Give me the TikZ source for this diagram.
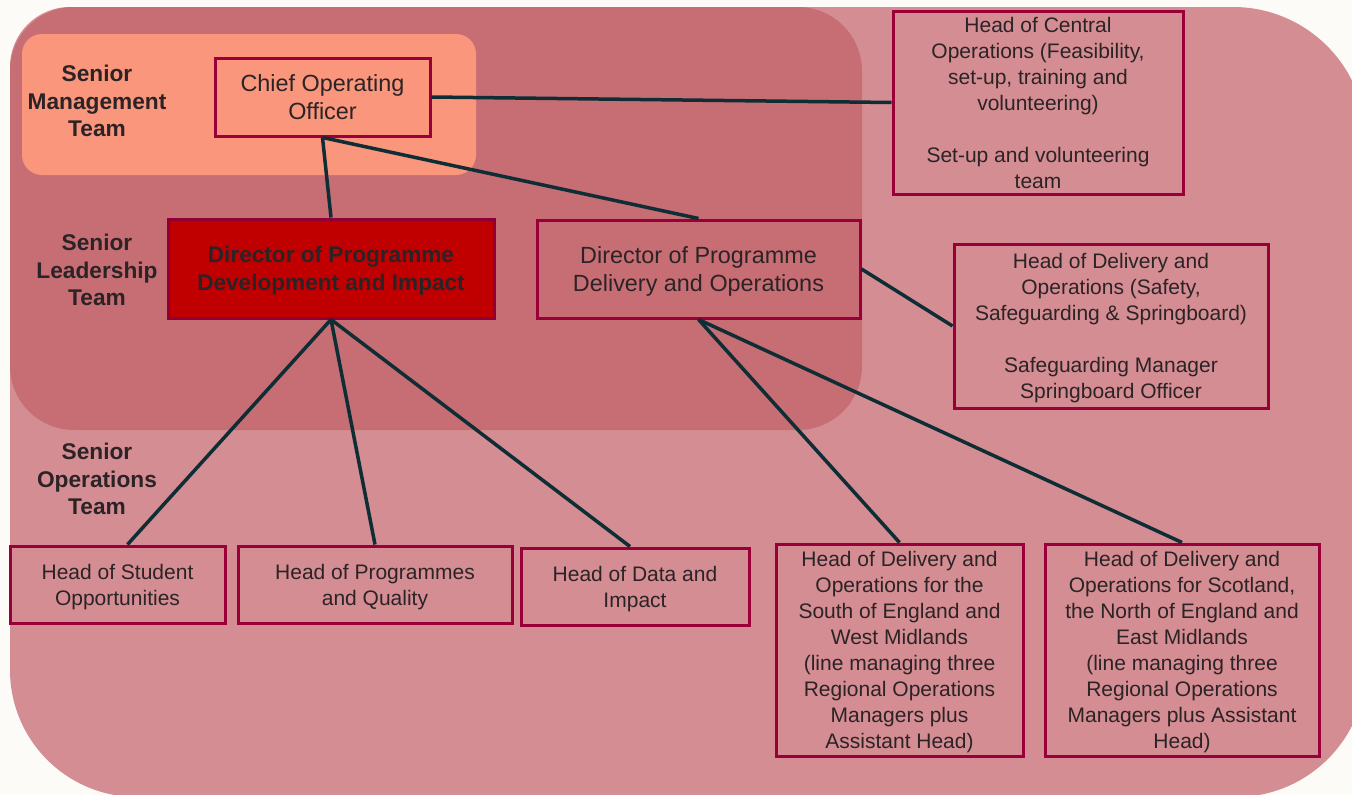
\documentclass[tikz,border=0pt]{standalone}
\usepackage{fontspec}
\setmainfont{Liberation Sans}
\definecolor{bgc}{HTML}{FCFBF8}
\definecolor{bigc}{HTML}{D48D92}
\definecolor{darkc}{HTML}{C66E73}
\definecolor{orc}{HTML}{F9967B}
\definecolor{bord}{HTML}{99003A}
\definecolor{linec}{HTML}{0F2D34}
\definecolor{txt}{HTML}{2B2326}
\definecolor{redc}{HTML}{C00000}
\definecolor{redbord}{HTML}{8E0035}
\begin{document}
\begin{tikzpicture}[x=1pt,y=-1pt,
  box/.style={draw=bord, line width=3pt, inner sep=0pt, align=center, text=txt, text depth=0pt},
  bigtxt/.style={font=\fontsize{23.4}{27.5}\selectfont},
  smalltxt/.style={font=\fontsize{21}{26}\selectfont},
  lbl/.style={align=center, text=txt, inner sep=0pt, font=\bfseries\fontsize{22.7}{27.5}\selectfont},
  conn/.style={draw=linec, line width=3.5pt}]
\fill[bgc] (0,0) rectangle (1352,795);
\useasboundingbox (0,0) rectangle (1352,795);
\clip (0,0) rectangle (1352,795);
% big region
\fill[bigc] (70,7) -- (1233,7) arc[start angle=-90, end angle=0, radius=133]
  -- (1366,667) arc[start angle=0, end angle=90, radius=130]
  -- (137,797) arc[start angle=90, end angle=180, radius=127]
  -- (10,67) arc[start angle=180, end angle=270, radius=60] -- cycle;
% leadership region
\fill[darkc, rounded corners=64pt] (10,7) rectangle (862,430);
% management region
\fill[orc, rounded corners=20pt] (22,34) rectangle (476,175);

% labels
\node[lbl] (lsm) at (97,101) {Senior\\Management\\Team};
\node[lbl] (lsl) at (97,270) {Senior\\Leadership\\Team};
\node[lbl] (lso) at (97,479) {Senior\\Operations\\Team};

% boxes
\node[box, bigtxt, fill=orc, minimum width=215pt, minimum height=78pt] (coo) at (322.5,97) {Chief Operating\\Officer};
\node[box, draw=redbord, fill=redc, minimum width=326pt, minimum height=99pt,
      font=\bfseries\fontsize{22.6}{27.5}\selectfont, text=txt] (dpdi) at (331,268.5) {Director of Programme\\Development and Impact};
\node[box, bigtxt, minimum width=323pt, minimum height=98pt] (dpdo) at (698.5,269) {Director of Programme\\Delivery and Operations};
\node[box, smalltxt, minimum width=290pt, minimum height=183pt] (hco) at (1038,102.5)
  {Head of Central\\Operations (Feasibility,\\set-up, training and\\volunteering)\\[26pt]Set-up and volunteering\\team};
\node[box, smalltxt, minimum width=314pt, minimum height=164pt] (hds) at (1111,326)
  {Head of Delivery and\\Operations (Safety,\\Safeguarding \& Springboard)\\[26pt]Safeguarding Manager\\Springboard Officer};
\node[box, smalltxt, minimum width=215pt, minimum height=77pt] (hso) at (117.5,584.5) {Head of Student\\Opportunities};
\node[box, smalltxt, minimum width=274pt, minimum height=77pt] (hpq) at (375,584.5) {Head of Programmes\\and Quality};
\node[box, smalltxt, minimum width=228pt, minimum height=77pt] (hdi) at (635,586.5) {Head of Data and\\Impact};
\node[box, smalltxt, minimum width=247pt, minimum height=212pt] (hsouth) at (899.5,650)
  {Head of Delivery and\\Operations for the\\South of England and\\West Midlands\\(line managing three\\Regional Operations\\Managers plus\\Assistant Head)};
\node[box, smalltxt, minimum width=274pt, minimum height=212pt] (hscot) at (1182,650)
  {Head of Delivery and\\Operations for Scotland,\\the North of England and\\East Midlands\\(line managing three\\Regional Operations\\Managers plus Assistant\\Head)};

% connectors
\draw[conn] (coo.east) -- (hco.west);
\draw[conn] (coo.south) -- (dpdi.north);
\draw[conn] (coo.south) -- (dpdo.north);
\draw[conn] (dpdo.east) -- (hds.west);
\draw[conn] (dpdi.south) -- ([xshift=10pt]hso.north);
\draw[conn] (dpdi.south) -- (hpq.north);
\draw[conn] (dpdi.south) -- ([xshift=-5pt]hdi.north);
\draw[conn] (dpdo.south) -- (hsouth.north);
\draw[conn] (dpdo.south) -- (hscot.north);
\end{tikzpicture}
\end{document}
